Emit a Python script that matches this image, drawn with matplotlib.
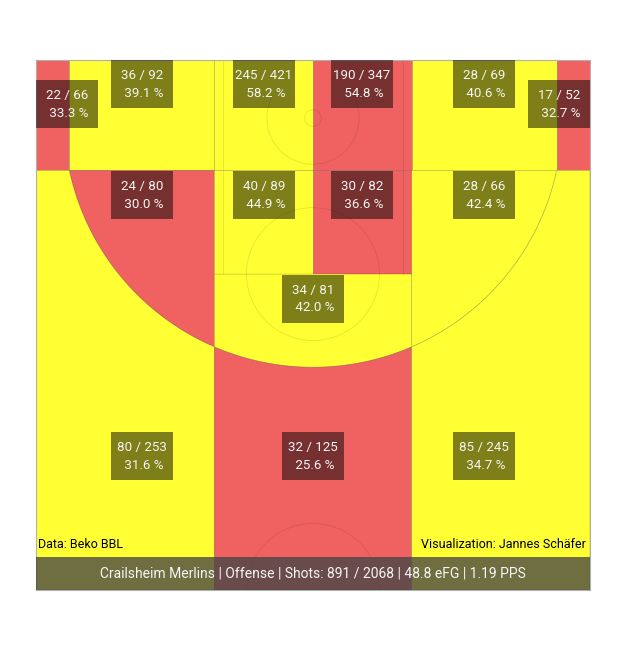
import numpy as np
import matplotlib
matplotlib.use('Agg')
import matplotlib.pyplot as plt
from matplotlib.patches import Polygon, Rectangle, Circle, Arc

# zone data (made / attempted), red = below league average
zones = ['corner_l', 'base_l', 'rim_l', 'rim_r', 'base_r', 'corner_r',
         'mid_l', 'paint_l', 'paint_r', 'mid_r', 'key_top',
         'wing_l', 'top3', 'wing_r']
made = [22, 36, 245, 190, 28, 17, 24, 40, 30, 28, 34, 80, 32, 85]
attempts = [66, 92, 421, 347, 69, 52, 80, 89, 82, 66, 81, 253, 125, 245]
below_avg = [True, False, False, True, False, True,
             True, False, True, False, False,
             False, True, False]
is_three = [True, False, False, False, False, True,
            False, False, False, False, False,
            True, True, True]

team = 'Crailsheim Merlins'
side = 'Offense'
pps = 1.19
source_txt = 'Data: Beko BBL'
credit_txt = 'Visualization: Jannes Schäfer'

YELLOW = '#ffff33'
RED = '#f06262'

# no condensed face installed, Roboto is the narrowest that is
plt.rcParams['font.family'] = ['Roboto', 'DejaVu Sans']

# court geometry in metres (FIBA), baseline on top
XS, XC, XP = 7.5, 6.6, 2.67
BY, R3 = 1.575, 6.75
YC = BY + np.sqrt(R3 ** 2 - XC ** 2)
YF = 5.8
YB = 14.36


def rect(x0, y0, x1, y1):
    return [(x0, y0), (x1, y0), (x1, y1), (x0, y1)]


def arc_pts(x0, x1, n=80):
    xs = np.linspace(x0, x1, n)
    return list(zip(xs, BY + np.sqrt(R3 ** 2 - xs ** 2)))


shapes = {
    'corner_l': rect(-XS, 0, -XC, YC),
    'base_l': rect(-XC, 0, -XP, YC),
    'rim_l': rect(-XP, 0, 0, YC),
    'rim_r': rect(0, 0, XP, YC),
    'base_r': rect(XP, 0, XC, YC),
    'corner_r': rect(XC, 0, XS, YC),
    'mid_l': arc_pts(-XC, -XP) + [(-XP, YC)],
    'paint_l': rect(-XP, YC, 0, YF),
    'paint_r': rect(0, YC, XP, YF),
    'mid_r': arc_pts(XP, XC) + [(XP, YC)],
    'key_top': [(-XP, YF), (XP, YF)] + arc_pts(XP, -XP),
    'wing_l': [(-XS, YC)] + arc_pts(-XC, -XP) + [(-XP, YB), (-XS, YB)],
    'top3': arc_pts(-XP, XP) + [(XP, YB), (-XP, YB)],
    'wing_r': [(XS, YC)] + arc_pts(XC, XP) + [(XP, YB), (XS, YB)],
}

label_xy = {
    'corner_l': (-6.66, 1.2), 'base_l': (-4.63, 0.66), 'rim_l': (-1.33, 0.66),
    'rim_r': (1.33, 0.66), 'base_r': (4.63, 0.66), 'corner_r': (6.66, 1.2),
    'mid_l': (-4.63, 3.67), 'paint_l': (-1.33, 3.67), 'paint_r': (1.33, 3.67),
    'mid_r': (4.63, 3.67), 'key_top': (0, 6.48),
    'wing_l': (-4.63, 10.74), 'top3': (0, 10.74), 'wing_r': (4.63, 10.74),
}

fig = plt.figure(figsize=(6.24, 6.54), dpi=100)
ax = fig.add_axes([36 / 624, 64 / 654, 554 / 624, 530 / 654])
ax.set_xlim(-XS, XS)
ax.set_ylim(YB, 0)
ax.set_xticks([])
ax.set_yticks([])
for sp in ax.spines.values():
    sp.set_color('#b0b0b0')
    sp.set_linewidth(0.8)

for z, low in zip(zones, below_avg):
    ax.add_patch(Polygon(shapes[z], closed=True, fc=RED if low else YELLOW,
                         ec=(0, 0, 0, 0.22), lw=0.5, zorder=1))

# court markings
line_c = (0, 0, 0, 0.1)
ax.add_patch(Circle((0, YF), 1.8, fill=False, ec=line_c, lw=0.6, zorder=2))
ax.add_patch(Circle((0, YB), 1.8, fill=False, ec=line_c, lw=0.6, zorder=2))
ax.add_patch(Circle((0, BY), 0.225, fill=False, ec=line_c, lw=0.6, zorder=2))
ax.add_patch(Arc((0, BY), 2.5, 2.5, theta1=-30, theta2=210, ec=line_c, lw=0.6, zorder=2))
for px in (-2.45, 2.45):
    ax.plot([px, px], [0, YF], color=line_c, lw=0.6, zorder=2)

for z, m, a in zip(zones, made, attempts):
    x, y = label_xy[z]
    ax.add_patch(Rectangle((x - 0.84, y - 0.65), 1.68, 1.3, fc=(0, 0, 0, 0.5),
                           lw=0, zorder=3))
    ax.text(x, y, f'{m} / {a}\n {100 * m / a:.1f} %', ha='center', va='center',
            multialignment='center', color='#f4f4f4', fontsize=9.6,
            linespacing=1.45, zorder=4)

total_made = sum(made)
total_att = sum(attempts)
threes = sum(m for m, t in zip(made, is_three) if t)
efg = 100 * (total_made + 0.5 * threes) / total_att

ax.text(-7.45, 13.12, source_txt, ha='left', va='center', color='black',
        fontsize=9, zorder=4)
ax.text(7.39, 13.12, credit_txt, ha='right', va='center', color='black',
        fontsize=9, zorder=4)

ax.add_patch(Rectangle((-XS, 13.47), 2 * XS, YB - 13.47, fc=(0.27, 0.27, 0.27, 0.78),
                       lw=0, zorder=5))
ax.text(0, 13.91, f'{team} | {side} | Shots: {total_made} / {total_att} | '
        f'{efg:.1f} eFG | {pps:.2f} PPS', ha='center', va='center',
        color='#f6f6f6', fontsize=10, zorder=6)

fig.savefig('out.png', dpi=100, facecolor='white')
